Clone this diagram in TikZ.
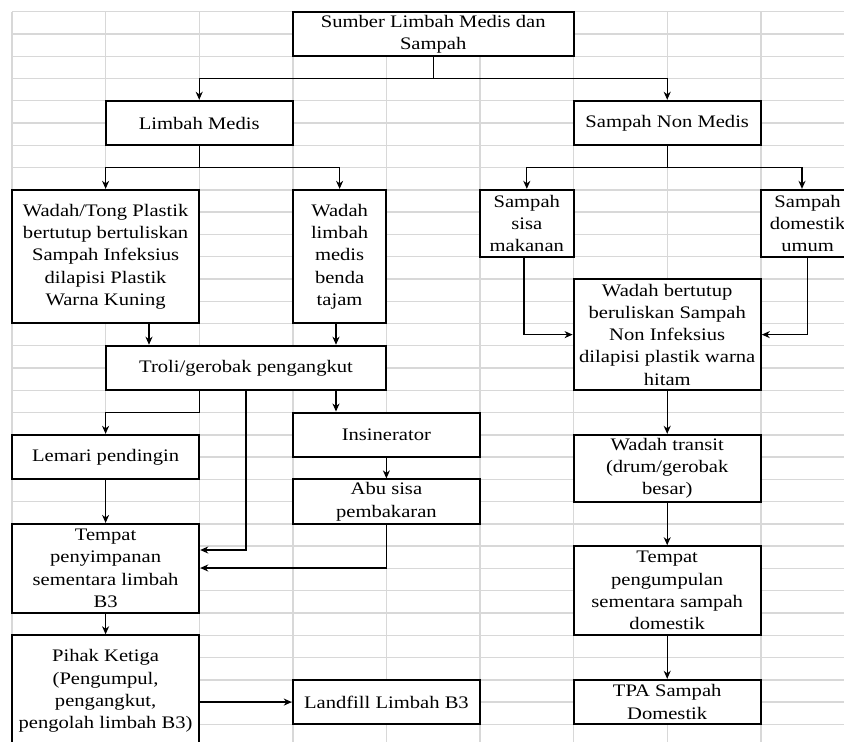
\documentclass[tikz,border=0pt]{standalone}
\usepackage{fontspec}
\setmainfont{Liberation Serif}[FakeStretch=1.17]
\usetikzlibrary{arrows.meta}
\definecolor{gridgray}{RGB}{216,216,216}
\tikzset{
  box/.style={draw=black, line width=2pt, fill=white, inner sep=0pt, align=center,
    font={\fontsize{17.6}{22.27}\selectfont}, text=black},
  ln/.style={draw=black, line width=1.3pt},
  arr/.style={ln, -{Stealth[length=8pt,width=7pt,inset=2.5pt]}},
  gridline/.style={draw=gridgray, line width=1.4pt}
}
\newcommand{\bx}[6]{%
  \node[box, minimum width={(#4-#2)*93.6pt}, minimum height={(#5-#3)*22.27pt}]
    (#1) at ({12+93.6*(#2+#4)/2},{11.7+22.27*(#3+#5)/2}) {#6};}
\begin{document}
\begin{tikzpicture}[x=1pt,y=-1pt]
\useasboundingbox (0,0) rectangle (844,742);
\clip (0,0) rectangle (844,742);
\fill[white] (0,0) rectangle (844,742);
% spreadsheet grid
\foreach \k in {0,...,32} \draw[gridline] (12,{11.7+22.27*\k}) -- (844,{11.7+22.27*\k});
\foreach \c in {0,...,8} \draw[gridline] ({12+93.6*\c},11.7) -- ({12+93.6*\c},742);
% helper coordinates
\coordinate (r3) at (0,{11.7+22.27*3});
\coordinate (r7) at (0,{11.7+22.27*7});
\coordinate (r18) at (0,{11.7+22.27*18});
\coordinate (y550) at (0,550);
\coordinate (y568) at (0,568);
\coordinate (x149) at (149,0);
\coordinate (x336) at (336,0);
\coordinate (x199) at (199.2,0);
\coordinate (x802) at (802,0);
\coordinate (x524) at (524,0);
% boxes
\bx{sumber}{3}{0}{6}{2}{Sumber Limbah Medis dan\\Sampah}
\bx{lm}{1}{4}{3}{6}{Limbah Medis}
\bx{snm}{6}{4}{8}{6}{Sampah Non Medis}
\bx{wt}{0}{8}{2}{14}{Wadah/Tong Plastik\\bertutup bertuliskan\\Sampah Infeksius\\dilapisi Plastik\\Warna Kuning}
\bx{wl}{3}{8}{4}{14}{Wadah\\limbah\\medis\\benda\\tajam}
\bx{sisa}{5}{8}{6}{11}{Sampah\\sisa\\makanan}
\bx{dom}{8}{8}{9}{11}{Sampah\\domestik\\umum}
\bx{wb}{6}{12}{8}{17}{Wadah bertutup\\beruliskan Sampah\\Non Infeksius\\dilapisi plastik warna\\hitam}
\bx{troli}{1}{15}{4}{17}{Troli/gerobak pengangkut}
\bx{ins}{3}{18}{5}{20}{Insinerator}
\bx{lemari}{0}{19}{2}{21}{Lemari pendingin}
\bx{abu}{3}{21}{5}{23}{Abu sisa\\pembakaran}
\bx{wtr}{6}{19}{8}{22}{Wadah transit\\(drum/gerobak\\besar)}
\bx{tps}{0}{23}{2}{27}{Tempat\\penyimpanan\\sementara limbah\\B3}
\bx{tpg}{6}{24}{8}{28}{Tempat\\pengumpulan\\sementara sampah\\domestik}
\bx{pihak}{0}{28}{2}{33}{Pihak Ketiga\\(Pengumpul,\\pengangkut,\\pengolah limbah B3)}
\bx{land}{3}{30}{5}{32}{Landfill Limbah B3}
\bx{tpa}{6}{30}{8}{32}{TPA Sampah\\Domestik}
% connectors
\draw[arr] (sumber.south) -- (sumber.south |- r3) -| (lm.north);
\draw[arr] (sumber.south |- r3) -| (snm.north);
\draw[arr] (lm.south) -- (lm.south |- r7) -| (wt.north);
\draw[arr] (lm.south |- r7) -| (wl.north);
\draw[arr] (snm.south) -- (snm.south |- r7) -| (sisa.north);
\draw[arr] (snm.south |- r7) -| (x802 |- dom.north);
\draw[arr] (x524 |- sisa.south) |- (wb.west);
\draw[arr] (dom.south) |- (wb.east);
\draw[arr] (wb.south) -- (wtr.north);
\draw[arr] (wtr.south) -- (tpg.north);
\draw[arr] (tpg.south) -- (tpa.north);
\draw[arr] (x149 |- wt.south) -- (x149 |- troli.north);
\draw[arr] (x336 |- wl.south) -- (x336 |- troli.north);
\draw[arr] (x199 |- troli.south) -- (x199 |- r18) -| (lemari.north);
\draw[arr] (troli.south) -- (troli.south |- y550) -- (tps.east |- y550);
\draw[arr] (x336 |- troli.south) -- (x336 |- ins.north);
\draw[arr] (ins.south) -- (abu.north);
\draw[arr] (abu.south) -- (abu.south |- y568) -- (tps.east |- y568);
\draw[arr] (lemari.south) -- (tps.north);
\draw[arr] (tps.south) -- (pihak.north);
\draw[arr] (pihak.east |- land.west) -- (land.west);
\end{tikzpicture}
\end{document}
